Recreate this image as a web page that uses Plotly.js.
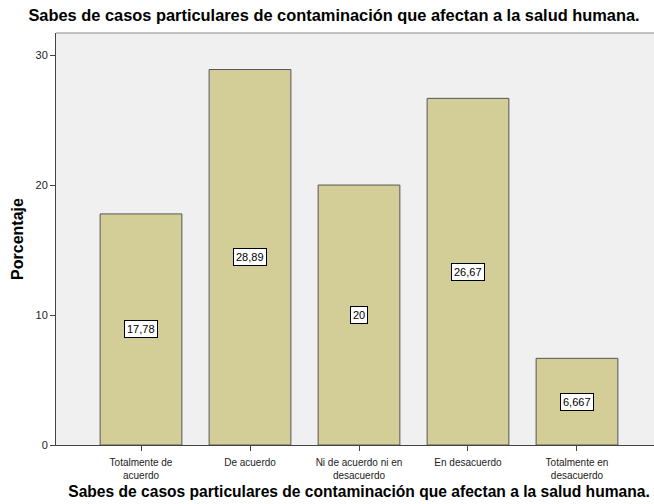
<!DOCTYPE html>
<html><head><meta charset="utf-8">
<script src="https://cdn.plot.ly/plotly-3.0.1.min.js"></script>
<style>html,body{margin:0;padding:0;overflow:hidden;background:#fff;}</style>
</head><body>
<div id="chart" style="width:662px;height:504px;"></div>
<script>
const categories = ["Totalmente de<br>acuerdo", "De acuerdo", "Ni de acuerdo ni en<br>desacuerdo", "En desacuerdo", "Totalmente en<br>desacuerdo"];
const percentages = [17.78, 28.89, 20, 26.67, 6.667];
const yTicks = [0, 10, 20, 30];
const titleText = "Sabes de casos particulares de contaminación que afectan a la salud humana.";
const yTitle = "Porcentaje";

const FONT = "Arial, 'Liberation Sans', sans-serif";
const xs = categories.map((c, i) => i);

const annotations = percentages.map((v, i) => ({
  x: i, y: v / 2, xref: 'x', yref: 'y',
  text: String(v).replace('.', ','),
  showarrow: false,
  font: {family: FONT, size: 11, color: '#000'},
  bgcolor: '#ffffff', bordercolor: '#000000', borderwidth: 1, borderpad: 2
}));

const trace = {
  type: 'bar', x: xs, y: percentages, width: 0.75,
  marker: {color: '#d3ce98', line: {color: '#555555', width: 1}},
  hoverinfo: 'skip'
};

const layout = {
  width: 662, height: 504,
  margin: {l: 56, r: 0, t: 33, b: 59},
  paper_bgcolor: '#ffffff', plot_bgcolor: '#f0f0f0',
  showlegend: false,
  separators: ',.',
  title: {text: titleText, font: {family: FONT, size: 16.4, color: '#000', weight: 'bold'},
    x: 334/662, xref: 'container', xanchor: 'center', y: 1 - 15/504, yref: 'container', yanchor: 'middle'},
  xaxis: {
    range: [-0.78, 4.78], tickmode: 'array', tickvals: xs, ticktext: categories,
    ticks: 'outside', ticklen: 5, tickcolor: '#444', tickwidth: 1,
    showline: true, linecolor: '#444', linewidth: 1, showgrid: false, zeroline: false,
    ticklabelstandoff: 3,
    tickfont: {family: FONT, size: 10, color: '#222'},
    title: {text: titleText, font: {family: FONT, size: 15.6, color: '#000', weight: 'bold'}, standoff: 6}
  },
  yaxis: {
    range: [0, 31.7], tickmode: 'array', tickvals: yTicks, ticktext: yTicks.map(String),
    ticks: 'outside', ticklen: 5, tickcolor: '#444', tickwidth: 1,
    showline: true, linecolor: '#444', linewidth: 1, showgrid: false, zeroline: false,
    tickfont: {family: FONT, size: 11, color: '#222'},
    title: {text: yTitle, font: {family: FONT, size: 16, color: '#000', weight: 'bold'}, standoff: 7}
  },
  annotations: annotations,
  shapes: [{type: 'line', xref: 'paper', yref: 'paper', x0: 0, x1: 1, y0: 1, y1: 1,
    line: {color: '#888888', width: 1}}]
};

Plotly.newPlot('chart', [trace], layout, {staticPlot: true, displayModeBar: false});
</script>
</body></html>
